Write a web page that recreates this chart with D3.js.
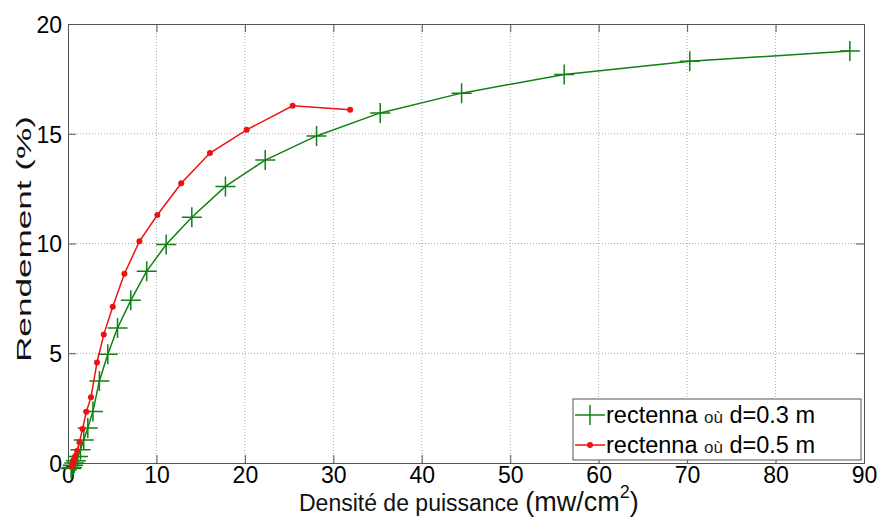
<!DOCTYPE html>
<html><head><meta charset="utf-8">
<script src="https://cdn.jsdelivr.net/npm/d3@7"></script>
<style>body{margin:0;background:#fff}svg{display:block}</style>
</head><body>
<svg id="c" width="882" height="525"></svg>
<script>
const xTicks=[0,10,20,30,40,50,60,70,80,90];
const yTicks=[0,5,10,15,20];
const greenX=[0.35,0.45,0.56,0.71,0.89,1.12,1.41,1.78,2.24,2.82,3.55,4.5,5.6,7.1,8.9,11.1,14.0,17.8,22.3,28.1,35.3,44.5,56.1,70.3,88.4];
const greenY=[-0.25,-0.2,-0.1,0.0,0.1,0.3,0.6,1.05,1.6,2.35,3.74,4.95,6.15,7.41,8.74,9.95,11.2,12.6,13.8,14.9,15.95,16.85,17.7,18.3,18.77];
const redX=[0.41,0.52,0.65,0.82,1.03,1.3,1.64,2.07,2.6,3.28,4.04,5.06,6.38,8.08,10.1,12.8,16.05,20.2,25.4,31.9];
const redY=[-0.15,-0.05,0.1,0.3,0.55,0.95,1.55,2.33,3.0,4.58,5.85,7.12,8.62,10.1,11.3,12.74,14.12,15.18,16.27,16.09];
const legendLabels=[["rectenna ","où"," d=0.3 m"],["rectenna ","où"," d=0.5 m"]];

const svg=d3.select("#c");
const L=68,R=864,T=24,B=463;
const x=d3.scaleLinear().domain([0,90]).range([L,R]);
const y=d3.scaleLinear().domain([0,20]).range([B,T]);
const font="'Liberation Sans', Arial, sans-serif";
const axisCol="#555";

// grid
const g=svg.append("g");
g.selectAll(".gx").data(xTicks.slice(1,-1)).enter().append("line")
 .attr("x1",d=>x(d)).attr("x2",d=>x(d)).attr("y1",T).attr("y2",B)
 .attr("stroke","#aaa").attr("stroke-dasharray","1,2").attr("stroke-width",1);
g.selectAll(".gy").data(yTicks.slice(1,-1)).enter().append("line")
 .attr("y1",d=>y(d)).attr("y2",d=>y(d)).attr("x1",L).attr("x2",R)
 .attr("stroke","#aaa").attr("stroke-dasharray","1,2").attr("stroke-width",1);

// axes with inward ticks
const tl=8;
const ax=svg.append("g").attr("transform",`translate(0,${B})`)
 .call(d3.axisBottom(x).tickValues(xTicks).tickSize(-tl).tickPadding(3).tickFormat(d3.format("d")));
const axT=svg.append("g").attr("transform",`translate(0,${T})`)
 .call(d3.axisTop(x).tickValues(xTicks).tickSize(-tl).tickFormat(""));
const ay=svg.append("g").attr("transform",`translate(${L},0)`)
 .call(d3.axisLeft(y).tickValues(yTicks).tickSize(-tl).tickPadding(6).tickFormat(d3.format("d")));
const ayR=svg.append("g").attr("transform",`translate(${R},0)`)
 .call(d3.axisRight(y).tickValues(yTicks).tickSize(-tl).tickFormat(""));
[ax,axT,ay,ayR].forEach(a=>{
  a.select(".domain").attr("stroke",axisCol).attr("stroke-width",1);
  a.selectAll(".tick line").attr("stroke",axisCol);
  a.selectAll("text").style("font-family",font).style("font-size","23px").attr("fill","#000");
});
ay.selectAll("text").attr("dy","0.36em");
ax.selectAll("text").attr("dy","0.72em");

// lines
const line=d3.line().x(d=>x(d[0])).y(d=>y(d[1]));
const green=greenX.map((v,i)=>[v,greenY[i]]);
const red=redX.map((v,i)=>[v,redY[i]]);
const gc="#128012", rc="#ee1111";
svg.append("path").datum(green).attr("d",line).attr("fill","none").attr("stroke",gc).attr("stroke-width",1.5);
svg.append("g").selectAll("path").data(green).enter().append("path")
 .attr("d",d=>{const px=x(d[0]),py=y(d[1]);return `M${px-10},${py}H${px+10}M${px},${py-10}V${py+10}`;})
 .attr("stroke",gc).attr("stroke-width",1.5);
svg.append("path").datum(red).attr("d",line).attr("fill","none").attr("stroke",rc).attr("stroke-width",1.5);
svg.append("g").selectAll("circle").data(red).enter().append("circle")
 .attr("cx",d=>x(d[0])).attr("cy",d=>y(d[1])).attr("r",3).attr("fill",rc);

// axis labels
const xl=svg.append("text").attr("x",299).attr("y",511).attr("text-anchor","start")
 .style("font-family",font).attr("fill","#111");
xl.append("tspan").style("font-size","23px").text("Densité de puissance ");
xl.append("tspan").style("font-size","27px").text("(mw/cm");
xl.append("tspan").style("font-size","18px").attr("dy",-13).text("2");
xl.append("tspan").style("font-size","27px").attr("dy",13).text(")");
svg.append("text").attr("transform","translate(31,239) rotate(-90)").attr("text-anchor","middle")
 .style("font-family",font).style("font-size","20px").attr("fill","#111")
 .attr("textLength",246).attr("lengthAdjust","spacingAndGlyphs").text("Rendement (%)");

// legend
const lg=svg.append("g");
lg.append("rect").attr("x",573).attr("y",399).attr("width",288).attr("height",61)
 .attr("fill","#fff").attr("stroke",axisCol).attr("stroke-width",1);
const rows=[{c:gc,m:"cross"},{c:rc,m:"dot"}];
rows.forEach((r,i)=>{
  const cy=415+i*30;
  lg.append("line").attr("x1",575).attr("x2",605).attr("y1",cy).attr("y2",cy).attr("stroke",r.c).attr("stroke-width",1.5);
  if(r.m==="cross") lg.append("line").attr("x1",590).attr("x2",590).attr("y1",cy-10).attr("y2",cy+10).attr("stroke",r.c).attr("stroke-width",1.5);
  else lg.append("circle").attr("cx",590).attr("cy",cy).attr("r",3).attr("fill",r.c);
  const t=lg.append("text").attr("x",606).attr("y",cy+8).style("font-family",font).attr("fill","#000");
  t.append("tspan").style("font-size","23.5px").text(legendLabels[i][0]);
  t.append("tspan").style("font-size","17px").attr("fill","#222").text(legendLabels[i][1]);
  t.append("tspan").style("font-size","23.5px").text(legendLabels[i][2]);
});
</script>
</body></html>
